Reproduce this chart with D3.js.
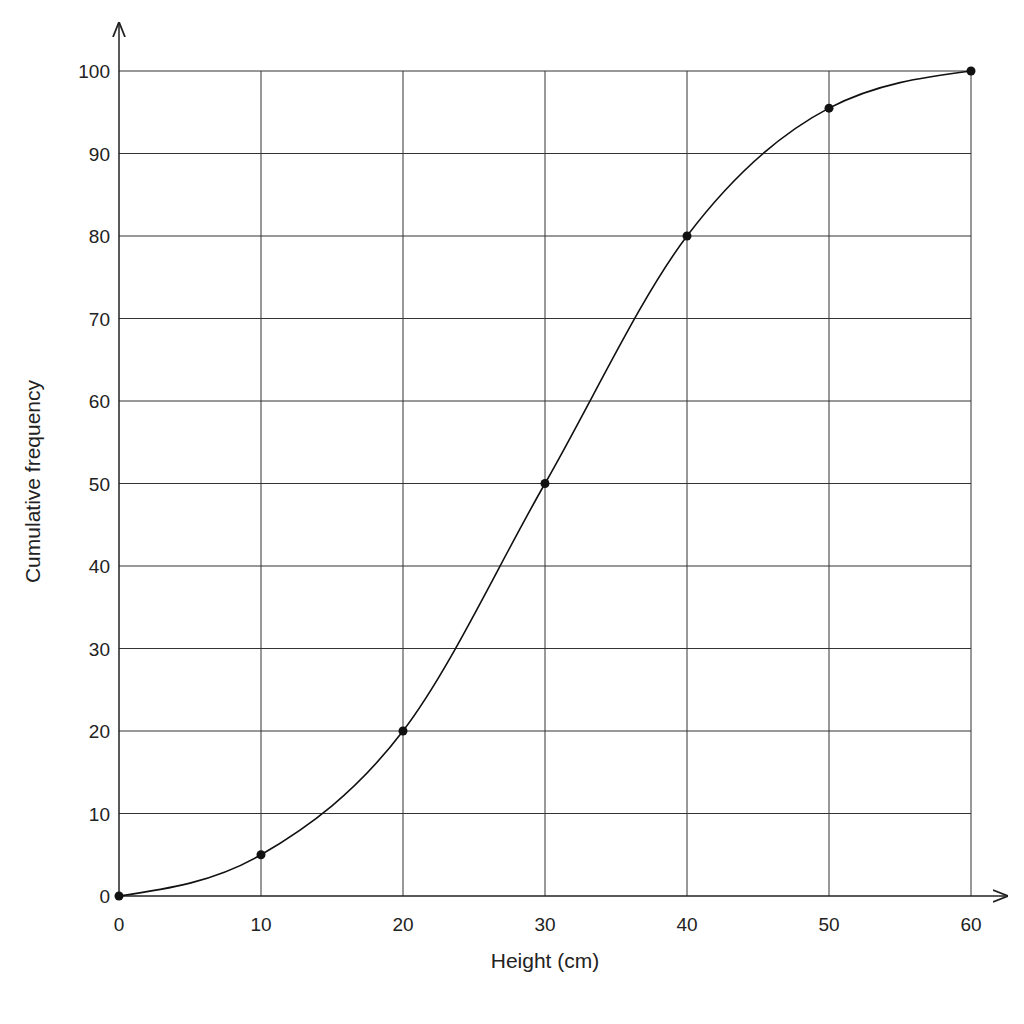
<!DOCTYPE html>
<html><head><meta charset="utf-8">
<script src="https://cdn.jsdelivr.net/npm/d3@7"></script>
<style>body{margin:0;background:#fff}text{font-family:"Liberation Sans",Arial,sans-serif;fill:#222}</style>
</head><body>
<script>
var heights = [0, 10, 20, 30, 40, 50, 60];
var cumFreq = [0, 5, 20, 50, 80, 95.5, 100];
var xTicks = [0, 10, 20, 30, 40, 50, 60];
var yTicks = [0, 10, 20, 30, 40, 50, 60, 70, 80, 90, 100];

var width = 1024, height = 1024;
var svg = d3.select("body").append("svg").attr("width", width).attr("height", height);

var x = d3.scaleLinear().domain([0, 60]).range([119, 971]);
var y = d3.scaleLinear().domain([0, 100]).range([896, 71]);

svg.append("defs").append("marker").attr("id", "arr")
    .attr("viewBox", "0 0 10 10").attr("refX", 10).attr("refY", 5)
    .attr("markerWidth", 10).attr("markerHeight", 10).attr("orient", "auto")
  .append("path").attr("d", "M0,1 L10,5 L0,9").attr("fill", "none").attr("stroke", "#222").attr("stroke-width", 1.2);

var grid = svg.append("g").attr("stroke", "#333").attr("stroke-width", 1);
grid.selectAll(".v").data(xTicks.slice(1)).enter().append("line")
    .attr("x1", d => x(d)).attr("x2", d => x(d)).attr("y1", y(100)).attr("y2", y(0));
grid.selectAll(".h").data(yTicks.slice(1)).enter().append("line")
    .attr("x1", x(0)).attr("x2", x(60)).attr("y1", d => y(d)).attr("y2", d => y(d));

svg.append("line").attr("x1", x(0)).attr("x2", 1008).attr("y1", y(0)).attr("y2", y(0))
    .attr("stroke", "#222").attr("stroke-width", 1.5).attr("marker-end", "url(#arr)");
svg.append("line").attr("x1", x(0)).attr("x2", x(0)).attr("y1", y(0)).attr("y2", 22)
    .attr("stroke", "#222").attr("stroke-width", 1.5).attr("marker-end", "url(#arr)");

svg.selectAll(".xt").data(xTicks).enter().append("text")
    .attr("x", d => x(d)).attr("y", y(0) + 35).attr("text-anchor", "middle")
    .attr("font-size", 19).text(d => d);
svg.selectAll(".yt").data(yTicks).enter().append("text")
    .attr("x", x(0) - 9).attr("y", d => y(d) + 7).attr("text-anchor", "end")
    .attr("font-size", 19).text(d => d);

svg.append("text").attr("x", x(30)).attr("y", 968).attr("text-anchor", "middle")
    .attr("font-size", 21).text("Height (cm)");
svg.append("text").attr("transform", "translate(40," + (y(50) - 2) + ") rotate(-90)")
    .attr("text-anchor", "middle").attr("font-size", 21).text("Cumulative frequency");

var pts = heights.map((h, i) => [h, cumFreq[i]]);
var line = d3.line().x(d => x(d[0])).y(d => y(d[1])).curve(d3.curveMonotoneX);
svg.append("path").datum(pts).attr("d", line).attr("fill", "none")
    .attr("stroke", "#111").attr("stroke-width", 1.6);
svg.selectAll(".pt").data(pts).enter().append("circle")
    .attr("cx", d => x(d[0])).attr("cy", d => y(d[1])).attr("r", 4.5).attr("fill", "#111");
</script>
</body></html>
